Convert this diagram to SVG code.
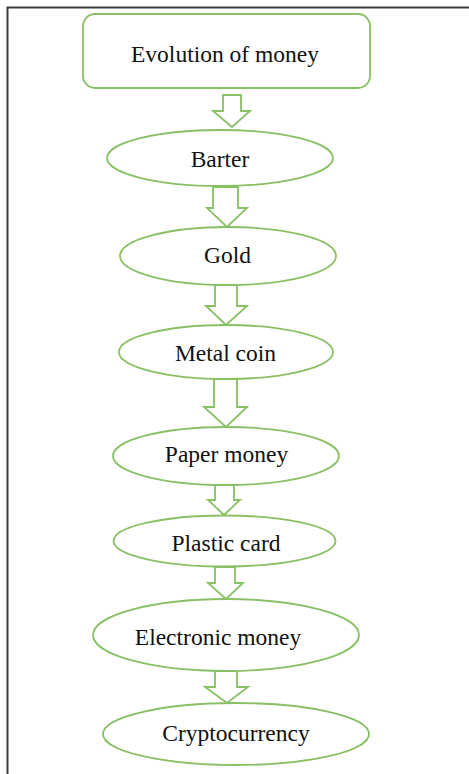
<svg xmlns="http://www.w3.org/2000/svg" width="469" height="774" viewBox="0 0 469 774">
  <style>
    .shape { fill: #ffffff; stroke: #88c064; stroke-width: 1.8; }
    .arrow { fill: #ffffff; stroke: #88c064; stroke-width: 1.8; stroke-linejoin: miter; }
    .label { font-family: "Liberation Serif", "Times New Roman", serif; font-size: 23.5px; fill: #111111; text-anchor: middle; }
  </style>
  <rect width="469" height="774" fill="#ffffff"/>
  <!-- frame: top and left edges only -->
  <path d="M7.5 774 V7.5 H469" fill="none" stroke="#3a3a3a" stroke-width="2"/>

  <!-- block arrows between the stages -->
  <g id="connectors">
    <path class="arrow" d="M223 95 H241 V111 H250 L232 127 L213 111 H223 Z"/>
    <path class="arrow" d="M213 187 H238 V208 H247 L227 227 L207 208 H213 Z"/>
    <path class="arrow" d="M215 285 H237 V306 H247 L226 325 L206 306 H215 Z"/>
    <path class="arrow" d="M214 379 H237 V407 H247 L226 427 L204 407 H214 Z"/>
    <path class="arrow" d="M215 485 H234 V500 H240 L224 515 L208 500 H215 Z"/>
    <path class="arrow" d="M215 567 H235 V583 H243 L226 599 L208 583 H215 Z"/>
    <path class="arrow" d="M215 671 H237 V687 H248 L227 703 L205 687 H215 Z"/>
  </g>

  <g id="evolution">
    <rect class="shape" x="83" y="14" width="287" height="74" rx="12" ry="12"/>
    <text class="label" x="225" y="62">Evolution of money</text>
  </g>
  <g id="barter">
    <ellipse class="shape" cx="220" cy="158" rx="113" ry="28"/>
    <text class="label" x="220" y="166.5">Barter</text>
  </g>
  <g id="gold">
    <ellipse class="shape" cx="228" cy="256" rx="108" ry="29"/>
    <text class="label" x="227.5" y="262.5">Gold</text>
  </g>
  <g id="metal-coin">
    <ellipse class="shape" cx="226" cy="352" rx="107" ry="27"/>
    <text class="label" x="225.5" y="360.5">Metal coin</text>
  </g>
  <g id="paper-money">
    <ellipse class="shape" cx="226" cy="456" rx="113" ry="29"/>
    <text class="label" x="226.5" y="461.5">Paper money</text>
  </g>
  <g id="plastic-card">
    <ellipse class="shape" cx="224.5" cy="541" rx="111" ry="25.5"/>
    <text class="label" x="226" y="550.5">Plastic card</text>
  </g>
  <g id="electronic-money">
    <ellipse class="shape" cx="226" cy="635" rx="133" ry="36"/>
    <text class="label" x="218" y="645">Electronic money</text>
  </g>
  <g id="cryptocurrency">
    <ellipse class="shape" cx="236" cy="734" rx="133" ry="31"/>
    <text class="label" x="236" y="740.5">Cryptocurrency</text>
  </g>
</svg>
